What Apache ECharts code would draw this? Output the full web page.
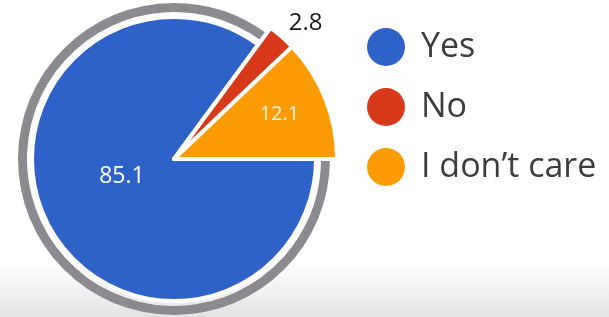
<!DOCTYPE html>
<html>
<head>
<meta charset="utf-8">
<script src="https://cdn.jsdelivr.net/npm/echarts@6/dist/echarts.min.js"></script>
<style>
  html, body { margin: 0; padding: 0; }
  #pieChart {
    width: 609px; height: 317px;
    background: linear-gradient(to bottom, #ffffff 0%, #ffffff 83%, #e3e3e3 100%);
  }
</style>
</head>
<body>
<div id="pieChart"></div>
<script>
// answers and their share (%)
const answers = ['Yes', 'No', 'I don’t care']
const shares = [85.1, 2.8, 12.1]
const colors = ['#2f62c9', '#d8391b', '#fc9b03']

// which answers sit in the small base pie and which are pulled out bigger
const inBase = ['Yes']
const pulledOut = ['No', 'I don’t care']

// label nudges in px, by answer index
const labelShift = [[14, -16], [-3, -2], [27, -13]]

const hidden = 'rgba(0,0,0,0)'

const chart = echarts.init(document.getElementById('pieChart'), null, { renderer: 'canvas' })

// build the data of one pie layer, only the listed names are painted
function layer(names, border, labelFor) {
  return answers.map((name, i) => {
    const show = names.indexOf(name) !== -1
    return {
      name: name,
      value: shares[i],
      itemStyle: show
        ? { color: colors[i], borderColor: '#fff', borderWidth: border }
        : { color: hidden, borderWidth: 0 },
      label: labelFor ? labelFor(name, show) : { show: false }
    }
  })
}

function nudge(p) {
  const s = labelShift[p.dataIndex] || [0, 0]
  return { dx: s[0], dy: s[1] }
}

const option = {
  animation: false,
  legend: {
    orient: 'vertical',
    left: 362,
    top: 23,
    icon: 'circle',
    itemWidth: 60,
    itemHeight: 38,
    itemGap: 22,
    selectedMode: false,
    textStyle: { fontFamily: 'Open Sans', fontSize: 34, color: '#3d3d3d' },
    data: answers.map((name, i) => ({ name: name, itemStyle: { color: colors[i], borderWidth: 0 } }))
  },
  series: [
    {
      // grey ring hugging the big slice
      type: 'pie',
      silent: true,
      startAngle: 0,
      clockwise: true,
      center: [174, 159],
      radius: [147, 156],
      label: { show: false },
      labelLine: { show: false },
      data: answers.map((name, i) => ({
        name: name,
        value: shares[i],
        itemStyle: { color: inBase.indexOf(name) !== -1 ? '#8b8b8f' : hidden }
      }))
    },
    {
      type: 'pie',
      silent: true,
      startAngle: 0,
      clockwise: true,
      center: [174, 159],
      radius: [0, 142],
      avoidLabelOverlap: false,
      labelLine: { show: false },
      labelLayout: nudge,
      data: layer(inBase, 4, (name, show) => show
        ? { show: true, position: 'inside', fontFamily: 'Open Sans', fontSize: 23, color: '#fff', formatter: '{c}' }
        : { show: false })
    },
    {
      type: 'pie',
      silent: true,
      startAngle: 0,
      clockwise: true,
      center: [174, 159],
      radius: [0, 163],
      avoidLabelOverlap: false,
      labelLine: { show: false, length: 15, length2: 0 },
      labelLayout: nudge,
      data: layer(pulledOut, 4, (name, show) => {
        if (!show) return { show: false }
        if (name === 'No') {
          return { show: true, position: 'outside', distanceToLabelLine: 0, fontFamily: 'Open Sans',
                   fontSize: 24, color: '#1a1a1a', formatter: '{c}' }
        }
        return { show: true, position: 'inside', fontFamily: 'Open Sans', fontSize: 20,
                 color: '#fff7e6', formatter: '{c}' }
      })
    }
  ]
}

chart.setOption(option)
</script>
</body>
</html>
